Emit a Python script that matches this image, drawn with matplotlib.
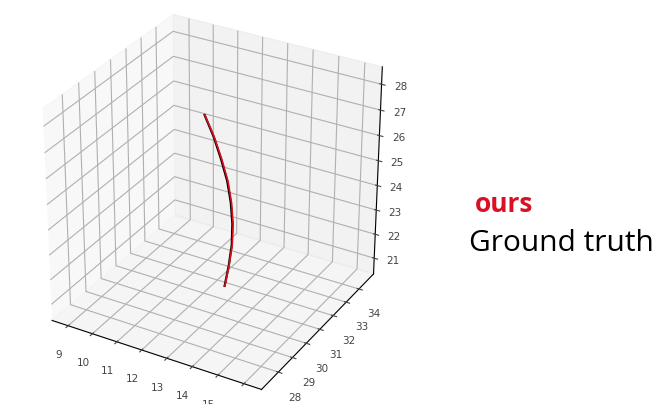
import matplotlib
matplotlib.use("Agg")
import matplotlib.pyplot as plt
from matplotlib.patches import Rectangle

# Trajectory samples (x, y, z)
gt_x = [12.20, 12.47, 12.68, 12.87, 12.98, 13.03, 13.02, 12.93, 12.80]
gt_y = [30.78, 30.93, 31.06, 31.16, 31.22, 31.25, 31.23, 31.18, 31.12]
gt_z = [27.64, 26.80, 25.94, 25.08, 24.23, 23.37, 22.52, 21.66, 20.82]

ours_x = [12.21, 12.49, 12.71, 12.90, 13.01, 13.06, 13.04, 12.94, 12.81]
ours_y = [30.78, 30.93, 31.06, 31.16, 31.22, 31.25, 31.23, 31.18, 31.12]
ours_z = [27.64, 26.80, 25.94, 25.08, 24.23, 23.37, 22.52, 21.66, 20.82]

x_ticks = [9, 10, 11, 12, 13, 14, 15, 16]
y_ticks = [28, 29, 30, 31, 32, 33, 34]
z_ticks = [21, 22, 23, 24, 25, 26, 27, 28]

# Axis windows of 8 units around the track, with a small pad on each side
x_lim = (8.5, 16.5)
y_lim = (27.0, 35.0)
z_lim = (20.5, 28.5)
pad = 1 / 48

fig = plt.figure(figsize=(6.62, 4.16), dpi=100)
ax = fig.add_axes([0.0095, 0.0297, 0.6156, 0.977], projection="3d")
ax.set_box_aspect((4, 4, 4))

ax.plot(gt_x, gt_y, gt_z, color="black", linewidth=1.6)
ax.plot(ours_x, ours_y, ours_z, color="#d8101c", linewidth=1.2)

for setter, (lo, hi) in ((ax.set_xlim, x_lim), (ax.set_ylim, y_lim),
                         (ax.set_zlim, z_lim)):
    d = (hi - lo) * pad
    setter(lo - d, hi + d)
ax.set_xticks(x_ticks)
ax.set_yticks(y_ticks)
ax.set_zticks(z_ticks)
ax.tick_params(labelsize=7.5, colors="#444444")
ax.tick_params(axis="z", pad=1)

fig.text(0.718, 0.49, "ours", color="#dc1024", fontsize=19, fontweight="bold",
         family="Open Sans", va="baseline")
fig.text(0.708, 0.397, "Ground truth", color="black", fontsize=21.5,
         family="Open Sans", va="baseline")

# blank strip along the bottom edge of the plot area
fig.add_artist(Rectangle((0, 0), 0.62, 0.03, transform=fig.transFigure,
                         facecolor="white", edgecolor="none", zorder=10))

fig.savefig("out.png", dpi=100)
